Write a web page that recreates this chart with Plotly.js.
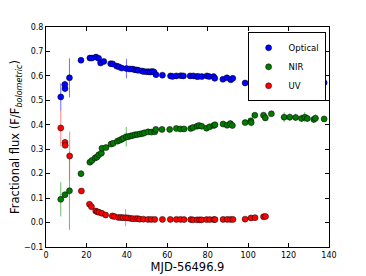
<!DOCTYPE html>
<html>
<head>
<meta charset="utf-8">
<script src="https://cdn.plot.ly/plotly-3.0.1.min.js"></script>
<style>html,body{margin:0;padding:0;background:#fff;}#chart{width:366px;height:276px;}</style>
</head>
<body>
<div id="chart"></div>
<script>
const optT = [7.3,9.3,9.4,11.6,17.3,21.7,22.7,24.7,26.0,27.0,28.6,32.0,33.0,34.9,36.0,37.4,39.8,41.4,42.7,43.9,44.9,45.7,47.5,48.3,49.7,50.8,51.6,52.6,53.4,54.4,57.6,61.6,62.6,64.5,66.7,68.0,71.3,72.9,74.6,75.4,77.1,79.6,80.7,82.9,83.5,87.5,89.5,91.4,92.4,98.5,101.5,101.8,103.5,107.2,108.4,111.7,117.5,120.4,123.4,126.4,128.7,129.5,132.0,133.6,137.6];
const optV = [0.514,0.565,0.548,0.592,0.664,0.673,0.673,0.677,0.672,0.653,0.659,0.650,0.649,0.640,0.637,0.632,0.630,0.628,0.628,0.625,0.624,0.623,0.620,0.618,0.617,0.617,0.616,0.618,0.616,0.605,0.603,0.600,0.598,0.600,0.601,0.600,0.600,0.600,0.597,0.598,0.597,0.600,0.597,0.597,0.590,0.586,0.592,0.584,0.590,0.571,0.569,0.557,0.534,0.527,0.534,0.551,0.567,0.566,0.567,0.568,0.566,0.566,0.571,0.569,0.572];
const optE = [0.055,0.015,0.015,0.08,0.01,0.006,0.006,0.006,0.006,0.012,0.008,0.005,0.005,0.005,0.005,0.005,0.04,0.005,0.005,0.005,0.005,0.005,0.005,0.005,0.005,0.005,0.005,0.005,0.012,0.005,0.005,0.008,0.005,0.005,0.005,0.005,0.005,0.005,0.005,0.005,0.005,0.005,0.005,0.005,0.008,0.005,0.005,0.005,0.005,0.008,0.008,0.012,0.008,0.008,0.01,0.008,0.015,0.012,0.012,0.012,0.015,0.015,0.012,0.012,0.01];

const nirT = [7.3,9.4,11.6,17.3,21.7,22.7,24.3,25.2,26.1,27.4,27.7,29.7,32.2,33.2,35.3,36.5,37.5,38.3,39.7,40.6,41.8,42.8,44.0,45.2,46.5,47.7,48.7,50.5,52.1,53.8,54.3,57.4,61.2,64.5,66.5,68.3,71.6,72.7,74.7,75.7,77.0,79.4,81.0,83.0,83.6,87.6,89.6,91.2,92.2,98.5,101.3,101.5,103.3,107.6,108.5,111.5,117.8,120.6,123.5,126.4,128.0,129.3,132.5,133.3,137.6];
const nirV = [0.095,0.114,0.130,0.200,0.247,0.254,0.264,0.268,0.277,0.284,0.304,0.307,0.321,0.324,0.333,0.337,0.341,0.345,0.351,0.351,0.354,0.356,0.359,0.360,0.362,0.364,0.367,0.371,0.370,0.371,0.381,0.381,0.381,0.385,0.383,0.383,0.385,0.389,0.394,0.397,0.394,0.386,0.392,0.397,0.400,0.403,0.398,0.405,0.397,0.409,0.416,0.409,0.439,0.439,0.428,0.445,0.431,0.431,0.430,0.426,0.431,0.426,0.422,0.427,0.424];
const nirE = [0.07,0.012,0.16,0.012,0.008,0.008,0.006,0.006,0.008,0.008,0.01,0.01,0.006,0.006,0.006,0.006,0.006,0.006,0.04,0.006,0.006,0.006,0.006,0.006,0.006,0.006,0.006,0.006,0.006,0.006,0.012,0.006,0.012,0.006,0.006,0.006,0.006,0.006,0.006,0.006,0.006,0.006,0.006,0.006,0.006,0.006,0.006,0.006,0.006,0.01,0.01,0.015,0.01,0.01,0.012,0.01,0.02,0.015,0.015,0.015,0.02,0.015,0.015,0.015,0.01];

const uvT = [7.3,9.4,9.5,11.7,17.5,21.5,22.5,24.6,25.4,26.2,27.6,29.5,32.8,33.8,35.8,37.0,38.1,39.4,40.6,41.9,43.0,44.4,45.4,46.4,48.2,50.5,52.1,53.8,57.6,61.5,64.5,66.5,68.3,71.6,72.7,74.7,76.0,77.0,79.4,81.0,83.0,83.6,87.6,89.6,91.2,92.5,98.5,101.4,103.4,107.6,108.6];
const uvV = [0.387,0.328,0.316,0.272,0.129,0.075,0.065,0.047,0.044,0.042,0.038,0.031,0.027,0.025,0.021,0.021,0.020,0.020,0.019,0.017,0.016,0.016,0.016,0.014,0.014,0.013,0.013,0.013,0.013,0.013,0.013,0.013,0.012,0.012,0.011,0.011,0.011,0.011,0.012,0.012,0.012,0.012,0.013,0.013,0.013,0.013,0.014,0.019,0.020,0.024,0.025];
const uvE = [0.075,0.012,0.012,0.1,0.01,0.008,0.006,0.005,0.005,0.005,0.006,0.005,0.004,0.004,0.004,0.004,0.004,0.035,0.004,0.004,0.004,0.004,0.006,0.004,0.006,0.004,0.004,0.006,0.004,0.006,0.004,0.004,0.004,0.006,0.004,0.006,0.004,0.006,0.004,0.004,0.004,0.004,0.004,0.004,0.004,0.004,0.004,0.006,0.004,0.008,0.008];

const seriesNames = ['Optical','NIR','UV'];

function tr(name, x, y, e, fill, errc) {
  return {
    type: 'scatter', mode: 'markers', name: name, x: x, y: y,
    error_y: {type: 'data', array: e, visible: true, color: errc, thickness: 1, width: 0},
    marker: {color: fill, size: 6, line: {color: '#000', width: 0.5}}
  };
}

const data = [
  tr(seriesNames[0], optT, optV, optE, '#0000ff', 'rgba(60,60,255,0.75)'),
  tr(seriesNames[1], nirT, nirV, nirE, '#007a00', 'rgba(40,160,40,0.7)'),
  tr(seriesNames[2], uvT, uvV, uvE, '#ff0000', 'rgba(255,80,80,0.7)')
];

const axisCommon = {
  showgrid: false, zeroline: false, showline: true, linecolor: '#000', linewidth: 1,
  mirror: 'allticks', ticks: 'inside', ticklen: 4, tickcolor: '#000',
  tickfont: {family: 'DejaVu Sans', size: 8, color: '#000'}
};

const layout = {
  width: 366, height: 276,
  margin: {l: 46, r: 37, t: 27, b: 29},
  paper_bgcolor: '#fff', plot_bgcolor: '#fff',
  font: {family: 'DejaVu Sans', color: '#000'},
  showlegend: true,
  legend: {x: 0.988, y: 0.976, xanchor: 'right', yanchor: 'top',
           bgcolor: '#fff', bordercolor: '#000', borderwidth: 1,
           font: {family: 'DejaVu Sans', size: 8.5, color: '#000'},
           itemwidth: 30, tracegroupgap: 0},
  xaxis: Object.assign({}, axisCommon, {
    range: [0, 140], dtick: 20, tick0: 0,
    title: {text: 'MJD-56496.9', font: {family: 'DejaVu Sans', size: 11.5, color: '#000'}, standoff: 4}
  }),
  yaxis: Object.assign({}, axisCommon, {
    range: [-0.1, 0.8], dtick: 0.1, tick0: 0, tickformat: '.1f',
    title: {text: 'Fractional flux (F/F<sub><i>bolometric</i></sub>)', font: {family: 'DejaVu Sans', size: 11.5, color: '#000'}, standoff: 1}
  })
};

Plotly.newPlot('chart', data, layout, {displayModeBar: false, staticPlot: true});
</script>
</body>
</html>
